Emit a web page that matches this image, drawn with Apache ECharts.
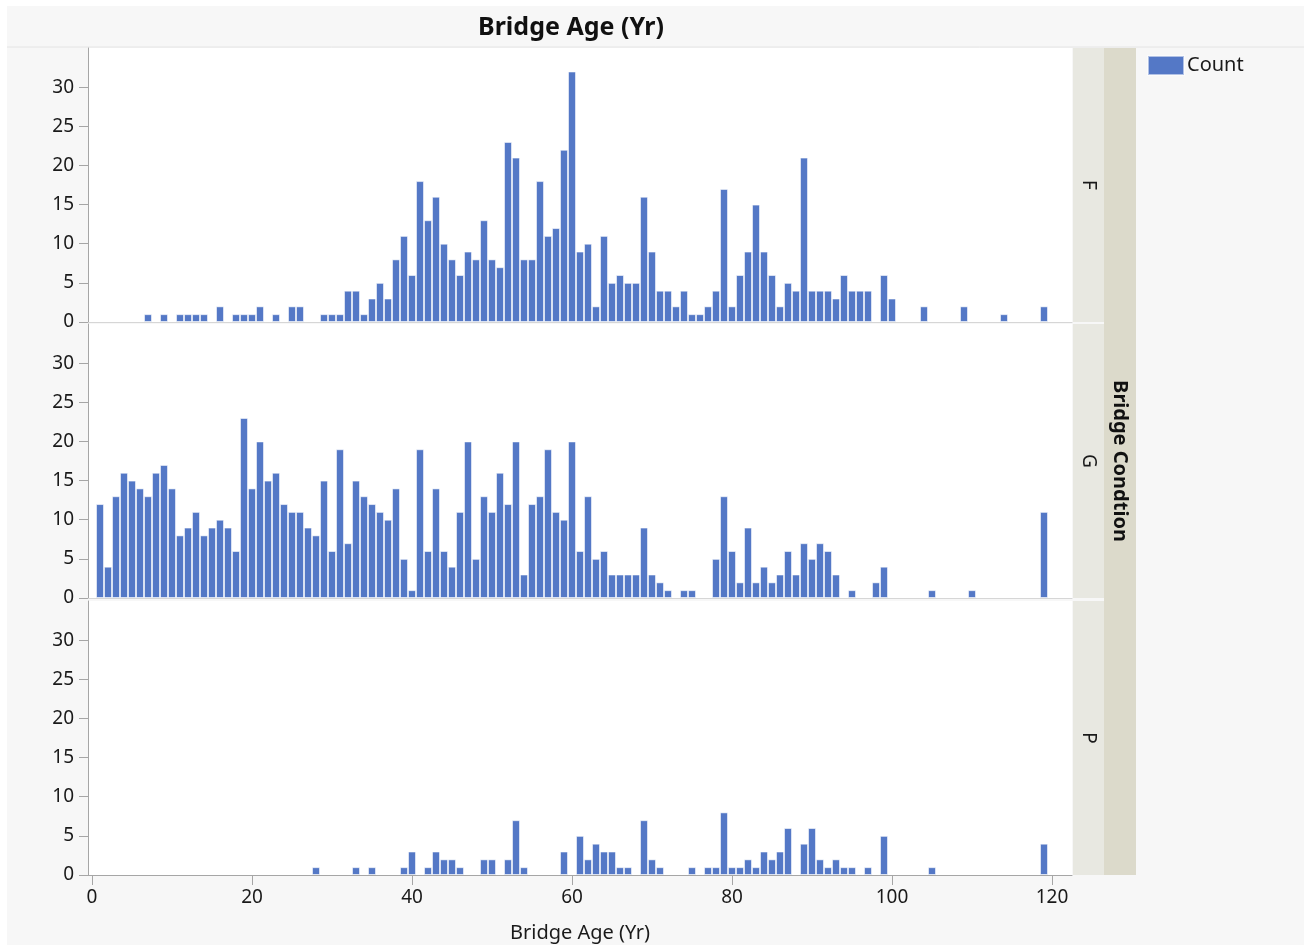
<!DOCTYPE html>
<html><head><meta charset="utf-8">
<script src="https://cdn.jsdelivr.net/npm/echarts@6/dist/echarts.min.js"></script>
<style>
html,body{margin:0;padding:0;background:#fff;}
#bg{position:absolute;left:7px;top:6px;width:1297px;height:939px;background:#f7f7f7;}
#chart{position:absolute;left:0;top:0;width:1304px;height:949px;}
</style></head><body>
<div id="bg"></div><div id="chart"></div>
<script>
// ---- data (age in years, count of bridges) ----
const panelNames = ['F', 'G', 'P'];
const xTicks = [0, 20, 40, 60, 80, 100, 120];
const yTicks = [0, 5, 10, 15, 20, 25, 30];

const ageF = [7,9,11,12,13,14,16,18,19,20,21,23,25,26,29,30,31,32,33,34,35,36,37,38,39,40,41,42,43,44,45,46,47,48,49,50,51,52,53,54,55,56,57,58,59,60,61,62,63,64,65,66,67,68,69,70,71,72,73,74,75,76,77,78,79,80,81,82,83,84,85,86,87,88,89,90,91,92,93,94,95,96,97,99,100,104,109,114,119];
const countF = [1,1,1,1,1,1,2,1,1,1,2,1,2,2,1,1,1,4,4,1,3,5,3,8,11,6,18,13,16,10,8,6,9,8,13,8,7,23,21,8,8,18,11,12,22,32,9,10,2,11,5,6,5,5,16,9,4,4,2,4,1,1,2,4,17,2,6,9,15,9,6,2,5,4,21,4,4,4,3,6,4,4,4,6,3,2,2,1,2];

const ageG = [1,2,3,4,5,6,7,8,9,10,11,12,13,14,15,16,17,18,19,20,21,22,23,24,25,26,27,28,29,30,31,32,33,34,35,36,37,38,39,40,41,42,43,44,45,46,47,48,49,50,51,52,53,54,55,56,57,58,59,60,61,62,63,64,65,66,67,68,69,70,71,72,74,75,78,79,80,81,82,83,84,85,86,87,88,89,90,91,92,93,95,98,99,105,110,119];
const countG = [12,4,13,16,15,14,13,16,17,14, 8,9,11,8,9,10,9,6,23,14, 20,15,16,12,11,11,9,8,15,6, 19,7,15,13,12,11,10,14,5,1, 19,6,14,6,4,11,20,5,13,11, 16,12,20,3,12,13,19,11,10,20, 6,13,5,6,3,3,3,3,9,3, 2,1, 1,1, 5,13,6,2,9,2,4,2,3,6,3,7,5,7,6,3, 1,2,4,1,1,11];

const ageP = [28,33,35,39,40,42,43,44,45,46,49,50,52,53,54,59,61,62,63,64,65,66,67,69,70,71,75,77,78,79,80,81,82,83,84,85,86,87,89,90,91,92,93,94,95,97,99,105,119];
const countP = [1,1,1,1,3,1,3,2,2,1,2,2,2,7,1,3,5,2,4,3,3,1,1,7,2,1,1,1,1,8,1,1,2,1,3,2,3,6,4,6,2,1,2,1,1,1,5,1,4];

const panelAges = [ageF, ageG, ageP];
const panelCounts = [countF, countG, countP];

// ---- layout ----
const FONT = '"Noto Sans", "Open Sans", sans-serif';
const TXT = '#1a1a1a';
const BAR = '#5478c6';
const gridTops = [48, 324, 601];
const gridH = 274;
const plotL = 88, plotR = 1072;

const grids = [], xAxes = [], yAxes = [], series = [];
for (let i = 0; i < 3; i++) {
  grids.push({left: plotL, width: plotR - plotL, top: gridTops[i], height: gridH,
    show: true, backgroundColor: '#ffffff', borderWidth: 0, containLabel: false});
  const last = i === 2;
  xAxes.push({
    gridIndex: i, type: 'value', min: -0.5, max: 122.5,
    axisLine: {show: true, onZero: false, lineStyle: {color: last ? '#a6a6a6' : '#d6d6d6', width: 1}},
    axisTick: {show: last, length: 10, customValues: xTicks, lineStyle: {color: '#a6a6a6'}},
    axisLabel: {show: last, customValues: xTicks, fontSize: 19, margin: 13, color: TXT, fontFamily: FONT},
    splitLine: {show: false},
    name: last ? 'Bridge Age (Yr)' : '',
    nameLocation: 'middle', nameGap: 48,
    nameTextStyle: {fontSize: 20, color: TXT, fontFamily: FONT}
  });
  yAxes.push({
    gridIndex: i, type: 'value', min: 0, max: 35,
    axisLine: {show: true, onZero: false, lineStyle: {color: '#a6a6a6', width: 1}},
    axisTick: {show: true, length: 9, customValues: yTicks, lineStyle: {color: '#a6a6a6'}},
    axisLabel: {customValues: yTicks, fontSize: 19, margin: 14, color: TXT, fontFamily: FONT},
    splitLine: {show: false}
  });
  const ages = panelAges[i], counts = panelCounts[i];
  series.push({
    type: 'bar', name: 'Count', xAxisIndex: i, yAxisIndex: i,
    data: ages.map((a, k) => [a, counts[k]]),
    barWidth: 8,
    itemStyle: {color: BAR, borderColor: 'rgba(255,255,255,0.55)', borderWidth: 1},
    emphasis: {disabled: true}
  });
}

const graphics = [];
// outer strip
graphics.push({type: 'rect', shape: {x: 1104, y: 48, width: 32, height: 827},
  style: {fill: '#dcdacb'}, z: 1});
for (let i = 0; i < 3; i++) {
  graphics.push({type: 'rect', shape: {x: 1073, y: gridTops[i], width: 31, height: gridH},
    style: {fill: '#e8e8e1'}, z: 1});
  graphics.push({type: 'text', x: 1088, y: gridTops[i] + gridH / 2, rotation: -Math.PI / 2, z: 2,
    style: {text: panelNames[i], align: 'center', verticalAlign: 'middle',
      textAlign: 'center', textVerticalAlign: 'middle',
      font: '19px ' + FONT, fill: TXT}});
}
graphics.push({type: 'text', x: 1120, y: 461, rotation: -Math.PI / 2, z: 2,
  style: {text: 'Bridge Condtion', align: 'center', verticalAlign: 'middle',
    textAlign: 'center', textVerticalAlign: 'middle',
    font: 'bold 20px ' + FONT, fill: '#111'}});
graphics.push({type: 'text', x: 571, y: 28, z: 2,
  style: {text: 'Bridge Age (Yr)', align: 'center', verticalAlign: 'middle',
    textAlign: 'center', textVerticalAlign: 'middle',
    font: 'bold 25px ' + FONT, fill: '#111'}});
// thin line under title area
graphics.push({type: 'line', shape: {x1: 7, y1: 47, x2: 1304, y2: 47}, style: {stroke: '#e4e4e4', lineWidth: 1}, z: 0});

const chart = echarts.init(document.getElementById('chart'), null, {renderer: 'canvas'});
chart.setOption({
  animation: false,
  backgroundColor: 'transparent',
  grid: grids, xAxis: xAxes, yAxis: yAxes, series: series,
  legend: {data: ['Count'], left: 1147, top: 55, padding: 0, icon: 'rect', itemWidth: 36, itemHeight: 19,
    selectedMode: false,
    textStyle: {fontSize: 20, color: TXT, fontFamily: FONT, padding: [0, 0, 0, -2]}},
  graphic: graphics
});
</script>
</body></html>
